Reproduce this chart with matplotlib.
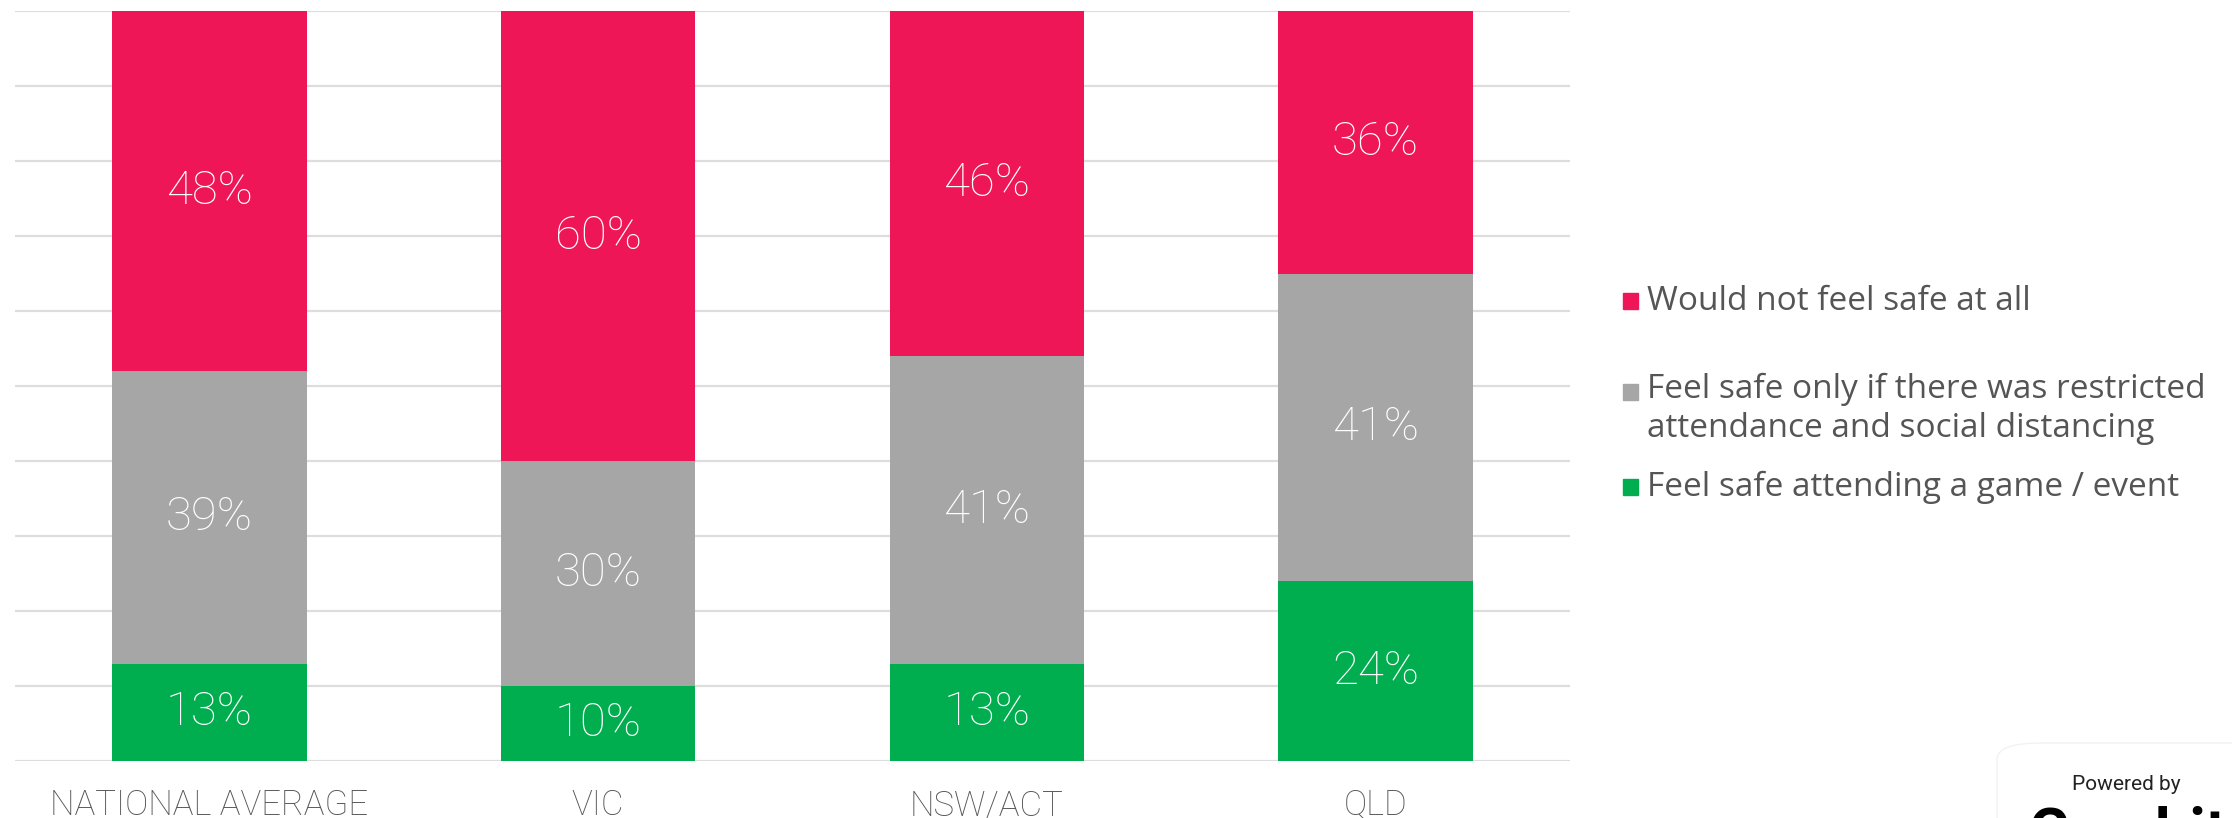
import matplotlib.pyplot as plt
import numpy as np
from matplotlib.patches import Rectangle, FancyBboxPatch

plt.rcParams['font.family'] = ['Roboto', 'DejaVu Sans']

# data (percent)
regions = ["NATIONAL AVERAGE", "VIC", "NSW/ACT", "QLD"]
safe = [13, 10, 13, 24]
restricted = [39, 30, 41, 41]
not_safe = [48, 60, 46, 36]

series_labels = ["Would not feel safe at all",
                 "Feel safe only if there was restricted\nattendance and social distancing",
                 "Feel safe attending a game / event"]

RED = "#EE1657"
GREY = "#A6A6A6"
GREEN = "#00AE4F"

W, H = 2232, 818
fig = plt.figure(figsize=(W / 100, H / 100), dpi=100)
ax = fig.add_axes([15 / W, (H - 761) / H, (1570 - 15) / W, 750 / H])

x = np.arange(len(regions))
safe = np.array(safe)
restricted = np.array(restricted)
not_safe = np.array(not_safe)

bars_g = ax.bar(x, safe, width=0.5, color=GREEN, zorder=2)
bars_r = ax.bar(x, restricted, width=0.5, bottom=safe, color=GREY, zorder=2)
bars_n = ax.bar(x, not_safe, width=0.5, bottom=safe + restricted, color=RED, zorder=2)

for bars, vals, bottoms in [(bars_g, safe, 0 * safe), (bars_r, restricted, safe),
                            (bars_n, not_safe, safe + restricted)]:
    for b, v, bt in zip(bars, vals, bottoms):
        top = min(bt + v, 100)
        ax.text(b.get_x() + b.get_width() / 2, (bt + top) / 2, f"{v}%",
                ha="center", va="center", color="white", fontsize=34,
                fontweight="light", zorder=3)

ax.set_xlim(-0.5, 3.5)
ax.set_ylim(0, 100)
ax.set_yticks(np.arange(0, 101, 10))
ax.yaxis.grid(True, color="#DDDDDD", linewidth=1.6, zorder=0)
ax.tick_params(axis="y", left=False, labelleft=False)
ax.set_xticks(x)
ax.set_xticklabels(regions, fontsize=25, color="#555555", fontweight="light")
ax.tick_params(axis="x", length=0, pad=20)
for s in ax.spines.values():
    s.set_visible(False)

# legend drawn by hand
leg_colors = [RED, GREY, GREEN]
leg_y = [301, 392, 487]
for c, lab, yy in zip(leg_colors, series_labels, leg_y):
    fig.add_artist(Rectangle((1623 / W, (H - yy - 8) / H), 15 / W, 16 / H,
                             transform=fig.transFigure, color=c))
    if "\n" in lab:
        fig.text(1647 / W, (H - yy + 19) / H, lab, ha="left", va="top",
                 fontsize=24, color="#555555", linespacing=1.25,
                 family=["Open Sans", "DejaVu Sans"])
    else:
        fig.text(1647 / W, (H - yy) / H, lab, ha="left", va="center",
                 fontsize=24, color="#555555", family=["Open Sans", "DejaVu Sans"])

# badge in the corner
fig.add_artist(FancyBboxPatch((1997 / W, -0.05), 300 / W, (H - 743) / H + 0.05,
                              boxstyle="round,pad=0,rounding_size=0.02",
                              transform=fig.transFigure, facecolor="white",
                              edgecolor="#F2F2F2", linewidth=1))
fig.text(2126 / W, (H - 785) / H, "Powered by", ha="center", va="center",
         fontsize=15, color="#222222")
fig.text(2028 / W, (H - 805) / H, "Gambit", ha="left", va="top",
         fontsize=44, fontweight="bold", color="black")

fig.savefig("out.png", dpi=100)
